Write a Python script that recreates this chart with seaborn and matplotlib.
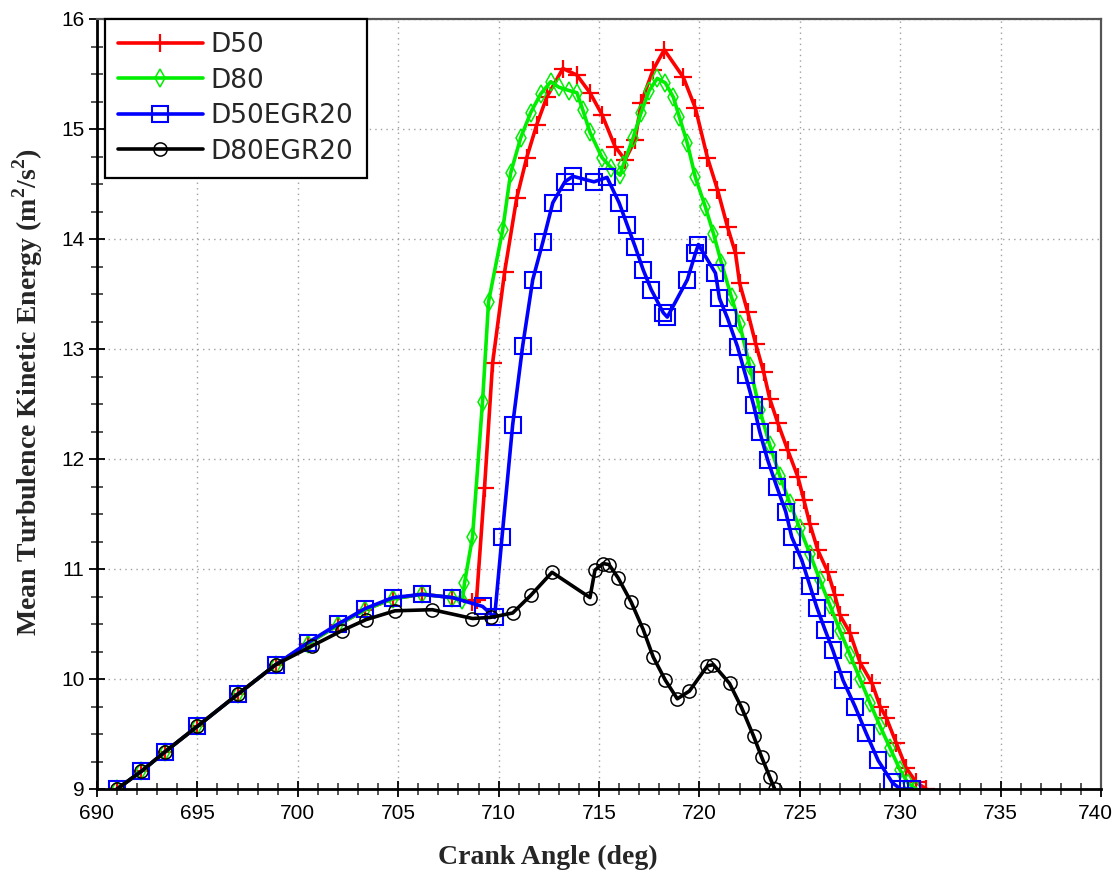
import numpy as np
import pandas as pd
import matplotlib
matplotlib.use("Agg")
import matplotlib.pyplot as plt
import matplotlib.transforms as mtransforms
import seaborn as sns
from matplotlib.ticker import MultipleLocator

# ---------------- data ----------------
lower_x = [691.0, 692.2, 693.4, 695.0, 697.0, 698.9]
lower_y = [9.00, 9.16, 9.34, 9.57, 9.86, 10.13]

d50_x = lower_x + [700.5, 702.0, 703.35, 704.74, 706.2, 707.7, 708.7, 708.9, 709.3, 709.7,
                   710.3, 710.9, 711.4, 711.9, 712.4, 713.2, 713.9, 714.55, 715.15, 715.8,
                   716.3, 716.8, 717.1, 717.7, 718.25, 719.2, 719.8, 720.4, 720.9, 721.4,
                   721.8, 722.0, 722.4, 722.8, 723.2, 723.5, 723.9, 724.4, 724.9, 725.2,
                   725.5, 725.9, 726.4, 726.75, 727.0, 727.5, 728.0, 728.6, 729.0, 729.3,
                   729.8, 730.3, 730.8, 731.3]
d50_y = lower_y + [10.32, 10.49, 10.63, 10.73, 10.77, 10.74, 10.70, 10.72, 11.74, 12.87,
                   13.70, 14.37, 14.74, 15.04, 15.29, 15.55, 15.49, 15.33, 15.13, 14.84,
                   14.72, 14.90, 15.24, 15.54, 15.72, 15.47, 15.19, 14.74, 14.45, 14.11,
                   13.87, 13.60, 13.34, 13.05, 12.79, 12.55, 12.33, 12.08, 11.84, 11.63,
                   11.41, 11.17, 10.97, 10.76, 10.58, 10.42, 10.15, 9.96, 9.75, 9.65,
                   9.42, 9.19, 9.06, 9.00]

d80_x = lower_x + [700.5, 702.0, 703.35, 704.74, 706.2, 707.7, 708.2, 708.3, 708.7, 709.2,
                   709.5, 710.2, 710.6, 711.1, 711.6, 712.1, 712.6, 713.0, 713.5, 713.9,
                   714.2, 714.55, 715.15, 715.6, 716.05, 716.2, 716.7, 717.1, 717.5, 717.9,
                   718.3, 718.7, 719.0, 719.4, 719.8, 720.3, 720.7, 721.1, 721.6, 722.0,
                   722.5, 723.0, 723.5, 724.0, 724.5, 725.0, 725.5, 726.0, 726.5, 727.0,
                   727.5, 728.0, 728.5, 729.0, 729.5, 730.0, 730.4, 730.8]
d80_y = lower_y + [10.32, 10.49, 10.63, 10.73, 10.77, 10.74, 10.72, 10.87, 11.29, 12.52,
                   13.43, 14.08, 14.60, 14.92, 15.15, 15.32, 15.43, 15.38, 15.35, 15.33,
                   15.17, 14.97, 14.74, 14.65, 14.58, 14.67, 14.92, 15.15, 15.35, 15.46,
                   15.42, 15.29, 15.11, 14.87, 14.56, 14.29, 14.05, 13.78, 13.47, 13.23,
                   12.85, 12.45, 12.13, 11.85, 11.60, 11.37, 11.14, 10.90, 10.67, 10.44,
                   10.22, 10.00, 9.78, 9.57, 9.37, 9.17, 9.05, 9.00]

d50egr_x = lower_x + [700.5, 702.0, 703.35, 704.74, 706.2, 707.7, 709.2, 709.8, 710.17, 710.7,
                      711.2, 711.7, 712.2, 712.7, 713.3, 713.7, 714.75, 715.4, 716.0, 716.4,
                      716.8, 717.2, 717.6, 718.2, 718.4, 719.4, 719.8, 719.95, 720.8, 721.0,
                      721.4, 721.9, 722.3, 722.7, 723.0, 723.4, 723.85, 724.3, 724.6, 725.1,
                      725.5, 725.85, 726.25, 726.65, 727.15, 727.75, 728.3, 728.9, 729.6, 730.0,
                      730.6]
d50egr_y = lower_y + [10.33, 10.50, 10.64, 10.74, 10.77, 10.74, 10.66, 10.56, 11.29, 12.31,
                      13.03, 13.63, 13.97, 14.33, 14.52, 14.57, 14.52, 14.56, 14.33, 14.13,
                      13.93, 13.72, 13.54, 13.33, 13.29, 13.63, 13.87, 13.95, 13.69, 13.46,
                      13.28, 13.02, 12.76, 12.49, 12.25, 11.99, 11.75, 11.52, 11.29, 11.08,
                      10.85, 10.65, 10.45, 10.26, 9.99, 9.75, 9.51, 9.26, 9.06, 9.00,
                      9.00]

d80egr_x = lower_x + [700.7, 702.2, 703.4, 704.84, 706.7, 708.7, 709.6, 710.7, 711.6, 712.66,
                      714.55, 714.8, 715.2, 715.5, 715.95, 716.6, 717.2, 717.7, 718.3, 718.9,
                      719.5, 720.4, 720.7, 721.5, 722.1, 722.7, 723.1, 723.5, 723.75]
d80egr_y = lower_y + [10.30, 10.44, 10.54, 10.62, 10.63, 10.55, 10.56, 10.60, 10.76, 10.97,
                      10.74, 10.99, 11.05, 11.04, 10.92, 10.70, 10.45, 10.20, 9.99, 9.82,
                      9.89, 10.12, 10.13, 9.96, 9.74, 9.48, 9.29, 9.11, 9.00]

series_names = ["D50", "D80", "D50EGR20", "D80EGR20"]
series_x = [d50_x, d80_x, d50egr_x, d80egr_x]
series_y = [d50_y, d80_y, d50egr_y, d80egr_y]

x_ticks = [690, 695, 700, 705, 710, 715, 720, 725, 730, 735, 740]
y_ticks = [9, 10, 11, 12, 13, 14, 15, 16]

# ---------------- styling ----------------
sns.set_theme(style="white")
plt.rcParams["font.family"] = ["Liberation Sans", "DejaVu Sans"]

colors = ["#ff0000", "#00ee00", "#0000ff", "#000000"]
marker_kw = [
    dict(marker="+", markersize=13, markeredgewidth=1.6, markerfacecolor="#ff0000", markeredgecolor="#ff0000"),
    dict(marker="d", markersize=9, markeredgewidth=1.1, markerfacecolor="none", markeredgecolor="#00ee00"),
    dict(marker="s", markersize=11, markeredgewidth=1.5, markerfacecolor="none", markeredgecolor="#0000ff"),
    dict(marker="o", markersize=9.5, markeredgewidth=1.1, markerfacecolor="none", markeredgecolor="#000000"),
]

fig = plt.figure(figsize=(11.14, 8.76), dpi=100)
ax = fig.add_axes([97 / 1114, 1 - 789 / 876, (1101 - 97) / 1114, (789 - 19) / 876])

for name, xs, ys, c, mk in zip(series_names, series_x, series_y, colors, marker_kw):
    df = pd.DataFrame({"x": xs, "y": ys})
    sns.lineplot(data=df, x="x", y="y", ax=ax, color=c, linewidth=2.6,
                 estimator=None, sort=False, label=name, clip_on=True, **mk)

ax.set_xlim(690, 740)
ax.set_ylim(9, 16)
ax.set_xticks(x_ticks)
ax.set_yticks(y_ticks)
ax.xaxis.set_minor_locator(MultipleLocator(1))
ax.yaxis.set_minor_locator(MultipleLocator(0.25))
ax.tick_params(axis="both", which="major", direction="inout", length=12, width=1.3,
               labelsize=15, colors="black", bottom=True, left=True)
ax.tick_params(axis="both", which="minor", direction="inout", length=8, width=1.1,
               bottom=True, left=True)
ax.tick_params(axis="x", which="major", pad=5)
ax.tick_params(axis="y", which="major", pad=3)

# keep the last x tick label inside the canvas
fig.canvas.draw()
xlabels = ax.get_xticklabels()
shift = mtransforms.ScaledTranslation(-6 / 100, 0, fig.dpi_scale_trans)
xlabels[-1].set_transform(xlabels[-1].get_transform() + shift)

ax.grid(True, which="major", linestyle=(0, (1, 3)), color="#a0a0a0", linewidth=1.0)

for side in ["left", "bottom"]:
    ax.spines[side].set_color("black")
    ax.spines[side].set_linewidth(2.0)
for side in ["top", "right"]:
    ax.spines[side].set_color("#555555")
    ax.spines[side].set_linewidth(1.6)
    ax.spines[side].set_visible(True)

ax.set_xlabel("Crank Angle (deg)", fontsize=20, fontweight="bold",
              family=["Liberation Serif", "DejaVu Serif"], labelpad=12)
ax.xaxis.set_label_coords((548 - 97) / 1004, -0.072)
ax.set_ylabel("Mean Turbulence Kinetic Energy (m$^{\\mathregular{2}}$/s$^{\\mathregular{2}}$)", fontsize=20,
              fontweight="bold", family=["Liberation Serif", "DejaVu Serif"])
ax.yaxis.set_label_coords(-(97 - 45) / 1004, (789 - 392) / 770)

leg = ax.legend(loc="upper left", bbox_to_anchor=(0.008, 1.0), borderaxespad=0,
                handlelength=3.2, handletextpad=0.3, labelspacing=0.36,
                borderpad=0.5, fancybox=False, framealpha=1, edgecolor="black",
                prop={"family": ["DejaVu Sans"], "size": 19})
leg.get_frame().set_linewidth(1.6)

fig.savefig("out.png", dpi=100, facecolor="white")
